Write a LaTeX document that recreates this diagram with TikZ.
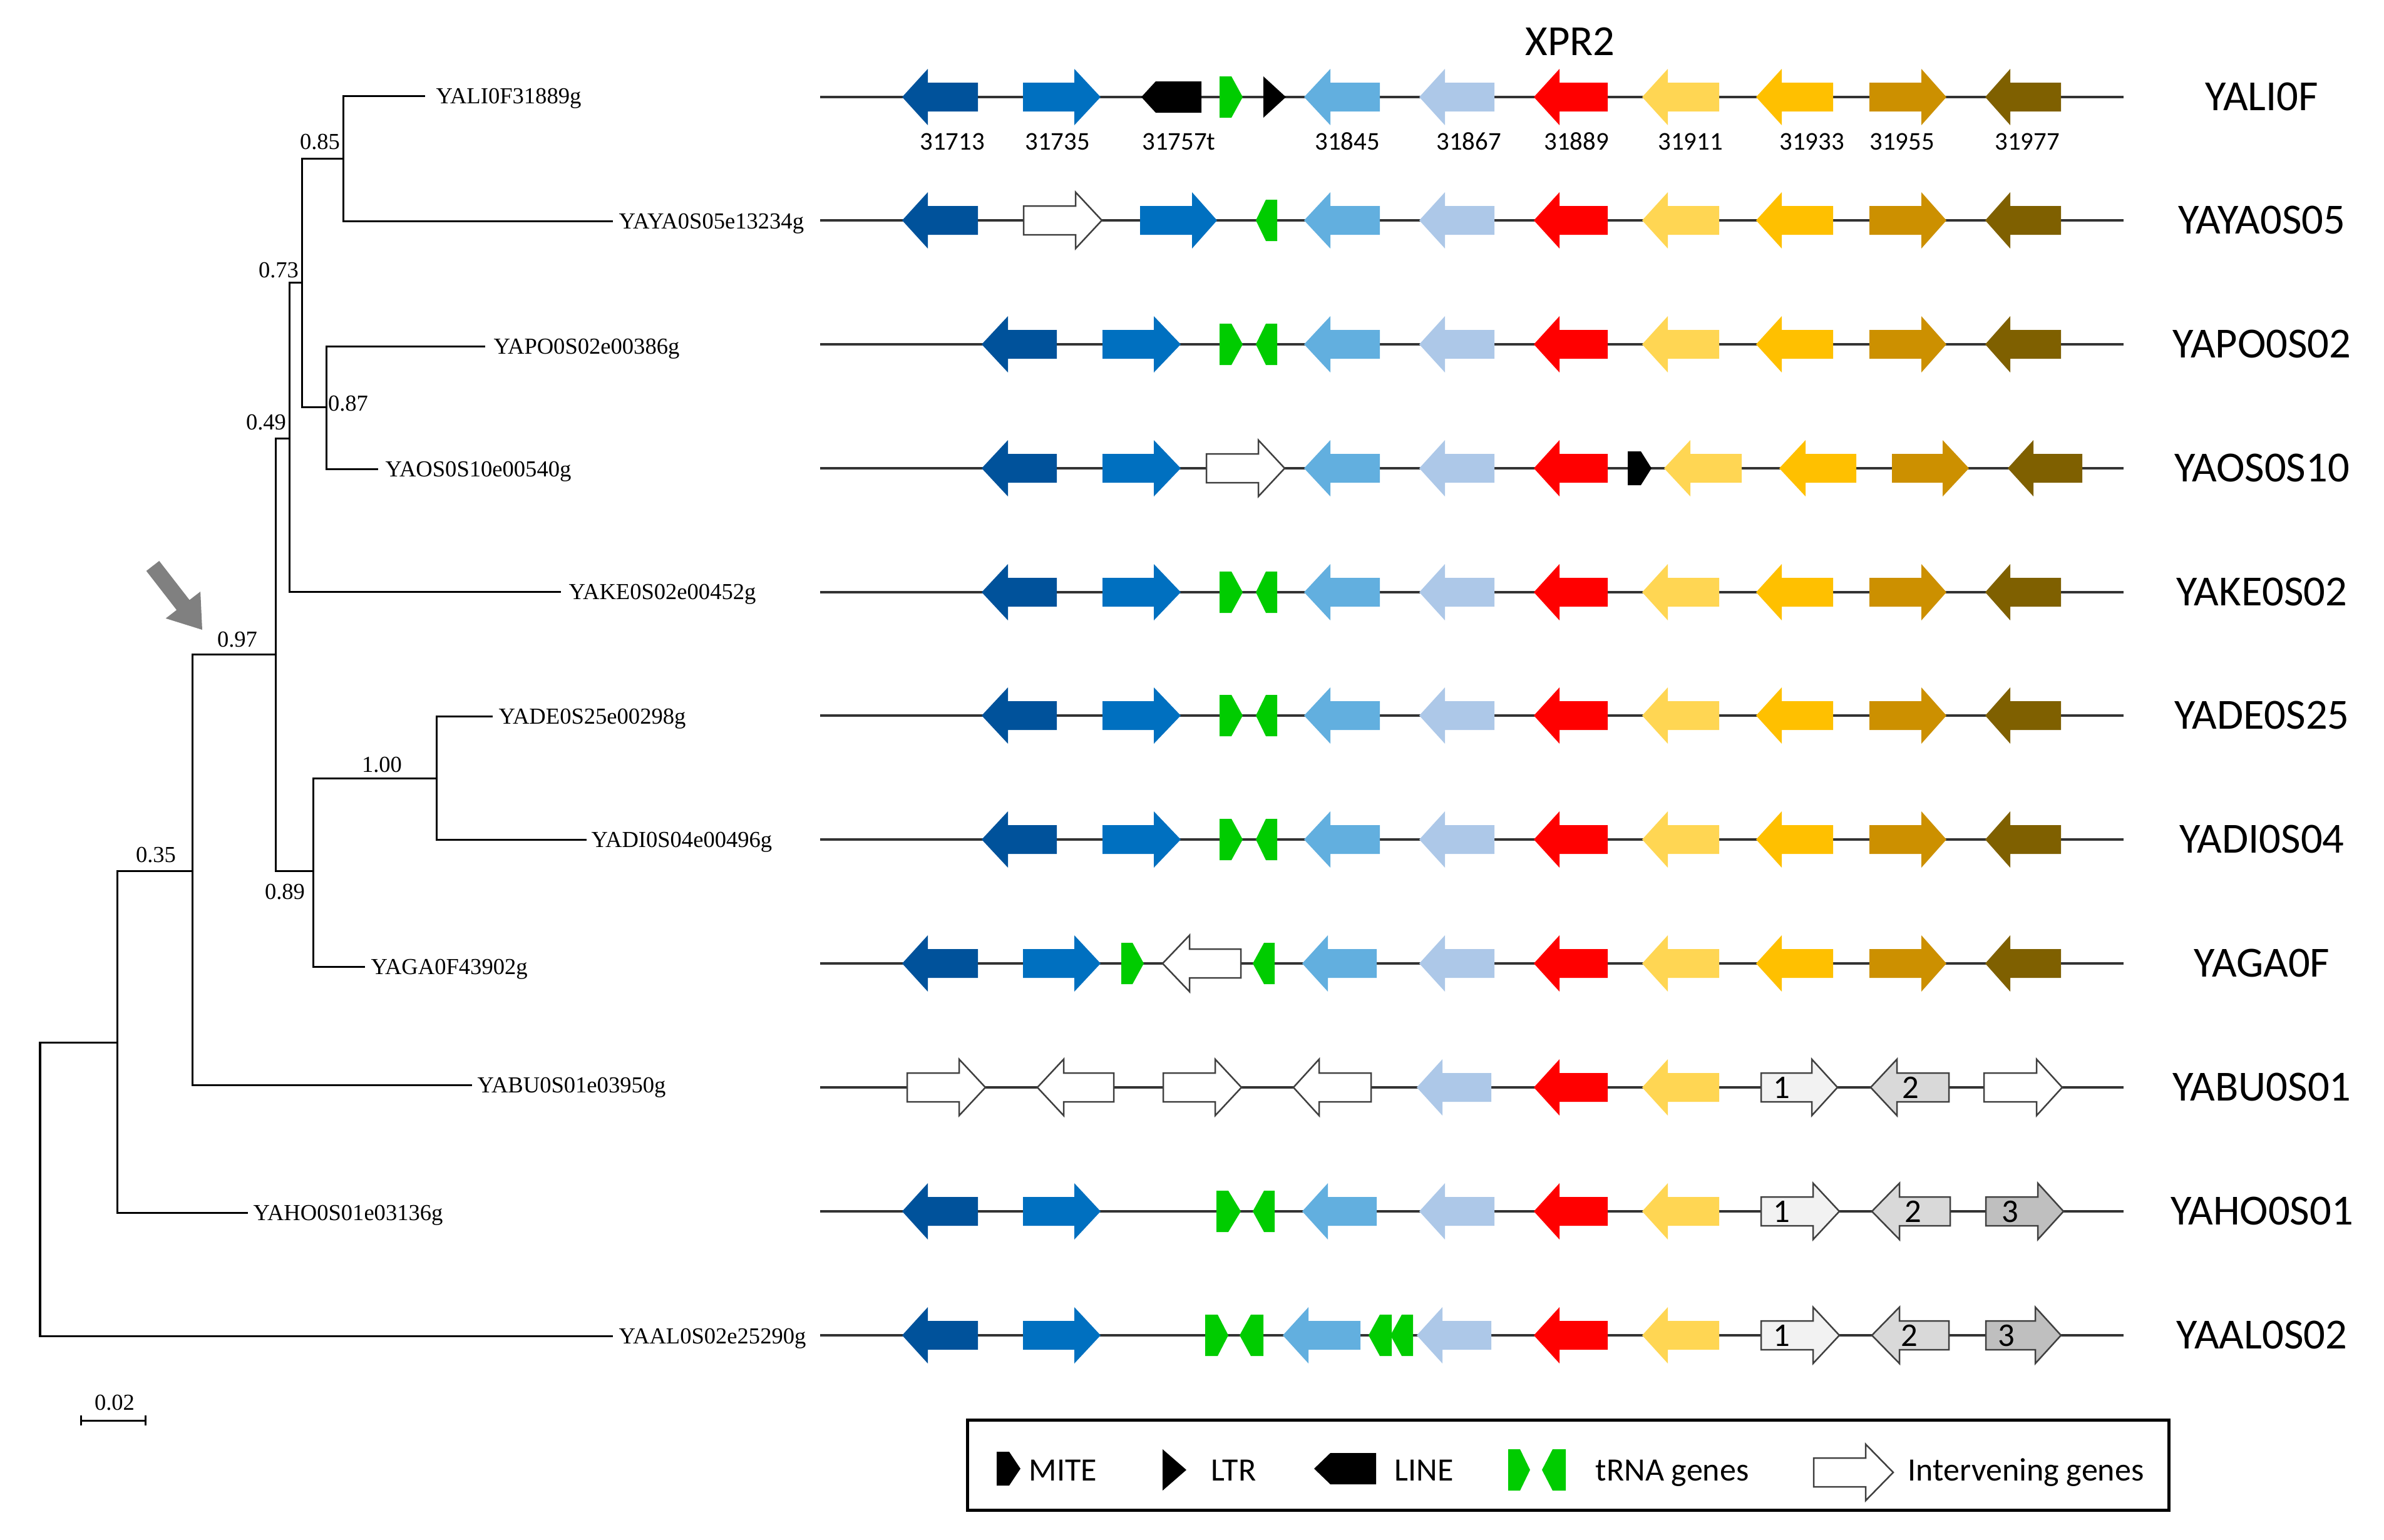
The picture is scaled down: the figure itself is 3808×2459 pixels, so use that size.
\documentclass[tikz,border=0pt]{standalone}
\usepackage{fontspec}
\setmainfont{Liberation Serif}
\newfontfamily\carl{Carlito}
\definecolor{dkblue}{HTML}{00529B}
\definecolor{mdblue}{HTML}{0070C0}
\definecolor{ltblue}{HTML}{62AFDF}
\definecolor{lrblue}{HTML}{ADC8E8}
\definecolor{genred}{HTML}{FF0000}
\definecolor{lyel}{HTML}{FFD653}
\definecolor{yel}{HTML}{FFC000}
\definecolor{ggold}{HTML}{CC9000}
\definecolor{gbrown}{HTML}{7F6000}
\definecolor{trna}{HTML}{00CC00}
\definecolor{gA}{HTML}{F2F2F2}
\definecolor{gB}{HTML}{D9D9D9}
\definecolor{gC}{HTML}{BFBFBF}
\definecolor{pointer}{HTML}{808080}
% right-pointing gene: style, left, head base, tip, y
\newcommand\geneR[5]{\path[#1] (#2,#5-23) -- (#3,#5-23) -- (#3,#5-45) -- (#4,#5) -- (#3,#5+45) -- (#3,#5+23) -- (#2,#5+23) -- cycle;}
% left-pointing gene: style, tip, head base, right, y
\newcommand\geneL[5]{\path[#1] (#4,#5-23) -- (#3,#5-23) -- (#3,#5-45) -- (#2,#5) -- (#3,#5+45) -- (#3,#5+23) -- (#4,#5+23) -- cycle;}
\newcommand\trnaR[4]{\path[fill=trna] (#1,#4-33) -- (#2,#4-33) -- (#3,#4) -- (#2,#4+33) -- (#1,#4+33) -- cycle;}
\newcommand\trnaL[4]{\path[fill=trna] (#3,#4-33) -- (#2,#4-33) -- (#1,#4) -- (#2,#4+33) -- (#3,#4+33) -- cycle;}
\newcommand\miteR[4]{\path[fill=black] (#1,#4-27) -- (#2,#4-27) -- (#3,#4) -- (#2,#4+27) -- (#1,#4+27) -- cycle;}
\newcommand\ltrR[3]{\path[fill=black] (#1,#3-33) -- (#2,#3) -- (#1,#3+33) -- cycle;}
\newcommand\lineL[4]{\path[fill=black] (#3,#4-25) -- (#2,#4-25) -- (#1,#4) -- (#2,#4+25) -- (#3,#4+25) -- cycle;}
\newcommand\stdA[1]{%
\geneL{fill=ltblue}{2083}{2125}{2204}{#1}
\geneL{fill=lrblue}{2267}{2308}{2387}{#1}
\geneL{fill=genred}{2450}{2491}{2568}{#1}}
\newcommand\stdB[1]{%
\geneL{fill=lyel}{2623}{2664}{2746}{#1}
\geneL{fill=yel}{2805}{2846}{2928}{#1}
\geneR{fill=ggold}{2986}{3069}{3109}{#1}
\geneL{fill=gbrown}{3171}{3211}{3292}{#1}}
\newcommand\chromo[1]{\draw[chrom] (1310,#1) -- (3392,#1);}
\begin{document}
\begin{tikzpicture}[x=0.01cm,y=-0.01cm,
  tree/.style={line width=0.03cm, black},
  leaf/.style={anchor=base west, inner sep=0pt, font=\fontsize{10.4pt}{12pt}\selectfont},
  boot/.style={anchor=base, inner sep=0pt, font=\fontsize{10.4pt}{12pt}\selectfont},
  chrom/.style={line width=0.04cm, draw=black!80},
  rowlab/.style={anchor=base, inner sep=0pt, font=\carl\fontsize{19.5pt}{22pt}\selectfont},
  numlab/.style={anchor=base, inner sep=0pt, font=\carl\fontsize{11.6pt}{13pt}\selectfont},
  boxnum/.style={anchor=base, inner sep=0pt, font=\carl\fontsize{15pt}{17pt}\selectfont},
  legtext/.style={anchor=base west, inner sep=0pt, font=\carl\fontsize{14.8pt}{17pt}\selectfont},
  inter/.style={fill=white, draw=black!75, line width=0.025cm},
  interA/.style={fill=gA, draw=black!75, line width=0.025cm},
  interB/.style={fill=gB, draw=black!75, line width=0.025cm},
  interC/.style={fill=gC, draw=black!75, line width=0.025cm}]
\useasboundingbox (0,0) rectangle (3808,2459);

% ---------------- tree ----------------
\coordinate (n0) at (64,1900);
\coordinate (n1) at (187,1665);
\coordinate (n035) at (307,1391);
\coordinate (n097) at (440,1045);
\coordinate (n049) at (462,700);
\coordinate (n073) at (482,451);
\coordinate (n085) at (548,253);
\coordinate (n087) at (521,650);
\coordinate (n089) at (500,1391);
\coordinate (n100) at (697,1243);
\coordinate (lYALI) at (679,153);
\coordinate (lYAYA) at (979,353);
\coordinate (lYAPO) at (775,553);
\coordinate (lYAOS) at (604,749);
\coordinate (lYAKE) at (896,945);
\coordinate (lYADE) at (787,1144);
\coordinate (lYADI) at (937,1341);
\coordinate (lYAGA) at (583,1544);
\coordinate (lYABU) at (754,1733);
\coordinate (lYAHO) at (396,1937);
\coordinate (lYAAL) at (979,2134);

\draw[tree] (n0) |- (n1);  \draw[tree] (n0) |- (lYAAL);
\draw[tree] (n1) |- (n035); \draw[tree] (n1) |- (lYAHO);
\draw[tree] (n035) |- (n097); \draw[tree] (n035) |- (lYABU);
\draw[tree] (n097) |- (n049); \draw[tree] (n097) |- (n089);
\draw[tree] (n049) |- (n073); \draw[tree] (n049) |- (lYAKE);
\draw[tree] (n073) |- (n085); \draw[tree] (n073) |- (n087);
\draw[tree] (n085) |- (lYALI); \draw[tree] (n085) |- (lYAYA);
\draw[tree] (n087) |- (lYAPO); \draw[tree] (n087) |- (lYAOS);
\draw[tree] (n089) |- (n100); \draw[tree] (n089) |- (lYAGA);
\draw[tree] (n100) |- (lYADE); \draw[tree] (n100) |- (lYADI);

\node[leaf] (tYALI) at (696,165) {YALI0F31889g};
\node[leaf] (tYAYA) at (988,365) {YAYA0S05e13234g};
\node[leaf] (tYAPO) at (788,565) {YAPO0S02e00386g};
\node[leaf] (tYAOS) at (615,761) {YAOS0S10e00540g};
\node[leaf] (tYAKE) at (908,957) {YAKE0S02e00452g};
\node[leaf] (tYADE) at (796,1156) {YADE0S25e00298g};
\node[leaf] (tYADI) at (944,1353) {YADI0S04e00496g};
\node[leaf] (tYAGA) at (592,1556) {YAGA0F43902g};
\node[leaf] (tYABU) at (762,1745) {YABU0S01e03950g};
\node[leaf] (tYAHO) at (404,1949) {YAHO0S01e03136g};
\node[leaf] (tYAAL) at (988,2146) {YAAL0S02e25290g};

\node[boot] (b085) at (511,238) {0.85};
\node[boot] (b073) at (445,443) {0.73};
\node[boot] (b087) at (556,656) {0.87};
\node[boot] (b049) at (425,686) {0.49};
\node[boot] (b097) at (379,1033) {0.97};
\node[boot] (b100) at (610,1233) {1.00};
\node[boot] (b035) at (249,1377) {0.35};
\node[boot] (b089) at (455,1436) {0.89};

% pointer arrow
\fill[pointer] (233.7,912.0) -- (254.3,896.0) -- (302.7,958.4) -- (320.1,945.0) -- (323,1006) -- (264.7,987.8) -- (282.1,974.4) -- cycle;

% scale bar
\coordinate (sbL) at (129,2269);
\coordinate (sbR) at (232,2269);
\draw[tree] (sbL) -- (sbR);
\draw[tree] ([yshift=-0.08cm]sbL) -- ([yshift=0.08cm]sbL);
\draw[tree] ([yshift=-0.08cm]sbR) -- ([yshift=0.08cm]sbR);
\node[boot] (sbT) at (183,2252) {0.02};

% ---------------- gene maps ----------------
\foreach \yy in {155,352,550,748,946,1143,1341,1539,1737,1935,2133} {\chromo{\yy}}

% row 1 YALI0F
\geneL{fill=dkblue}{1441}{1482}{1562}{155}
\geneR{fill=mdblue}{1634}{1716}{1758}{155}
\lineL{1823}{1846}{1919}{155}
\trnaR{1948}{1967}{1985}{155}
\ltrR{2018}{2054}{155}
\stdA{155}\stdB{155}
\node[numlab] (k1) at (1521,239) {31713};
\node[numlab] (k2) at (1689,239) {31735};
\node[numlab] (k3) at (1883,239) {31757t};
\node[numlab] (k4) at (2152,239) {31845};
\node[numlab] (k5) at (2346,239) {31867};
\node[numlab] (k6) at (2518,239) {31889};
\node[numlab] (k7) at (2700,239) {31911};
\node[numlab] (k8) at (2894,239) {31933};
\node[numlab] (k9) at (3038,239) {31955};
\node[numlab] (k10) at (3238,239) {31977};
\node[rowlab] (xpr) at (2508,88) {XPR2};

% row 2 YAYA0S05
\geneL{fill=dkblue}{1441}{1482}{1562}{352}
\geneR{inter}{1635}{1718}{1760}{352}
\geneR{fill=mdblue}{1821}{1904}{1944}{352}
\trnaL{2006}{2022}{2040}{352}
\stdA{352}\stdB{352}

% rows 3,5,6,7
\foreach \yy in {550,946,1143,1341} {
\geneL{fill=dkblue}{1568}{1610}{1688}{\yy}
\geneR{fill=mdblue}{1761}{1843}{1886}{\yy}
\trnaR{1948}{1967}{1985}{\yy}
\trnaL{2006}{2022}{2040}{\yy}
\stdA{\yy}\stdB{\yy}
}

% row 4 YAOS0S10
\geneL{fill=dkblue}{1568}{1610}{1688}{748}
\geneR{fill=mdblue}{1761}{1843}{1886}{748}
\geneR{inter}{1927}{2010}{2052}{748}
\stdA{748}
\miteR{2600}{2621}{2638}{748}
\geneL{fill=lyel}{2658}{2700}{2782}{748}
\geneL{fill=yel}{2842}{2884}{2965}{748}
\geneR{fill=ggold}{3022}{3103}{3145}{748}
\geneL{fill=gbrown}{3207}{3248}{3326}{748}

% row 8 YAGA0F
\geneL{fill=dkblue}{1441}{1482}{1562}{1539}
\geneR{fill=mdblue}{1634}{1716}{1758}{1539}
\trnaR{1791}{1809}{1827}{1539}
\geneL{inter}{1857}{1900}{1982}{1539}
\trnaL{2001}{2019}{2036}{1539}
\geneL{fill=ltblue}{2080}{2121}{2199}{1539}
\geneL{fill=lrblue}{2267}{2308}{2387}{1539}
\geneL{fill=genred}{2450}{2491}{2568}{1539}
\stdB{1539}

% row 9 YABU0S01
\geneR{inter}{1449}{1532}{1574}{1737}
\geneL{inter}{1657}{1699}{1779}{1737}
\geneR{inter}{1858}{1941}{1983}{1737}
\geneL{inter}{2066}{2107}{2190}{1737}
\geneL{fill=lrblue}{2263}{2304}{2382}{1737}
\geneL{fill=genred}{2450}{2491}{2568}{1737}
\geneL{fill=lyel}{2623}{2664}{2746}{1737}
\geneR{interA}{2813}{2894}{2935}{1737}
\geneL{interB}{2988}{3030}{3113}{1737}
\geneR{inter}{3169}{3253}{3294}{1737}
\node[boxnum] (u91) at (2846,1754) {1};
\node[boxnum] (u92) at (3052,1754) {2};

% row 10 YAHO0S01
\geneL{fill=dkblue}{1441}{1482}{1562}{1935}
\geneR{fill=mdblue}{1634}{1716}{1758}{1935}
\trnaR{1943}{1962}{1982}{1935}
\trnaL{2001}{2019}{2036}{1935}
\geneL{fill=ltblue}{2080}{2121}{2199}{1935}
\geneL{fill=lrblue}{2267}{2308}{2387}{1935}
\geneL{fill=genred}{2450}{2491}{2568}{1935}
\geneL{fill=lyel}{2623}{2664}{2746}{1935}
\geneR{interA}{2813}{2896}{2938}{1935}
\geneL{interB}{2990}{3034}{3115}{1935}
\geneR{interC}{3172}{3255}{3296}{1935}
\node[boxnum] (u101) at (2846,1952) {1};
\node[boxnum] (u102) at (3056,1952) {2};
\node[boxnum] (u103) at (3211,1952) {3};

% row 11 YAAL0S02
\geneL{fill=dkblue}{1441}{1482}{1562}{2133}
\geneR{fill=mdblue}{1634}{1716}{1758}{2133}
\trnaR{1925}{1945}{1962}{2133}
\trnaL{1980}{1998}{2018}{2133}
\geneL{fill=ltblue}{2049}{2090}{2173}{2133}
\trnaL{2186}{2204}{2223}{2133}
\trnaL{2221}{2239}{2257}{2133}
\geneL{fill=lrblue}{2263}{2304}{2382}{2133}
\geneL{fill=genred}{2450}{2491}{2568}{2133}
\geneL{fill=lyel}{2623}{2664}{2746}{2133}
\geneR{interA}{2813}{2896}{2938}{2133}
\geneL{interB}{2990}{3034}{3113}{2133}
\geneR{interC}{3172}{3251}{3292}{2133}
\node[boxnum] (u111) at (2846,2150) {1};
\node[boxnum] (u112) at (3050,2150) {2};
\node[boxnum] (u113) at (3205,2150) {3};

% row labels
\node[rowlab] (r1) at (3613,176) {YALI0F};
\node[rowlab] (r2) at (3613,373) {YAYA0S05};
\node[rowlab] (r3) at (3613,571) {YAPO0S02};
\node[rowlab] (r4) at (3613,769) {YAOS0S10};
\node[rowlab] (r5) at (3613,967) {YAKE0S02};
\node[rowlab] (r6) at (3613,1164) {YADE0S25};
\node[rowlab] (r7) at (3613,1362) {YADI0S04};
\node[rowlab] (r8) at (3613,1560) {YAGA0F};
\node[rowlab] (r9) at (3613,1758) {YABU0S01};
\node[rowlab] (r10) at (3613,1956) {YAHO0S01};
\node[rowlab] (r11) at (3613,2154) {YAAL0S02};

% ---------------- legend ----------------
\draw[line width=0.05cm] (1545,2268) rectangle (3464,2412);
\miteR{1592}{1612}{1630}{2346}
\node[legtext] (lgM) at (1643,2365) {MITE};
\ltrR{1857}{1895}{2348}
\node[legtext] (lgL) at (1934,2365) {LTR};
\lineL{2099}{2125}{2198}{2346}
\node[legtext] (lgN) at (2227,2365) {LINE};
\trnaR{2409}{2428}{2444}{2348}
\trnaL{2463}{2480}{2501}{2348}
\node[legtext] (lgT) at (2548,2365) {tRNA genes};
\geneR{inter}{2897}{2980}{3024}{2352}
\node[legtext] (lgI) at (3047,2365) {Intervening genes};
\end{tikzpicture}
\end{document}
